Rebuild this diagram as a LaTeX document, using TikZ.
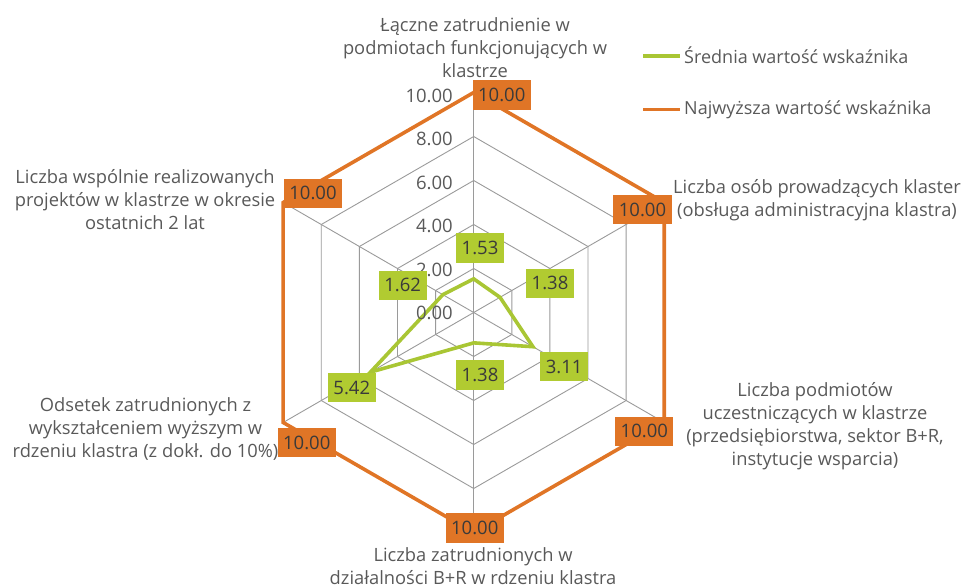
\documentclass[tikz,border=0pt]{standalone}
\usepackage{fontspec}
\setmainfont{Open Sans}
\definecolor{gl}{HTML}{A9C634}
\definecolor{gbox}{HTML}{B1CB31}
\definecolor{og}{HTML}{E07526}
\definecolor{gridc}{HTML}{9A9A9A}
\definecolor{txt}{HTML}{595959}
\definecolor{boxtxt}{HTML}{3A3A3A}
\tikzset{
  gridline/.style={draw=gridc, line width=0.9pt},
  avgline/.style={draw=gl, line width=3.6pt, line join=miter},
  maxline/.style={draw=og, line width=3.6pt, line join=miter},
  gval/.style={fill=gbox, text=boxtxt, inner xsep=5.5pt, inner ysep=0pt, minimum height=29.5pt, font=\fontsize{18.5}{20}\selectfont},
  oval/.style={fill=og, text=boxtxt, inner xsep=5.5pt, inner ysep=0pt, minimum height=29.5pt, font=\fontsize{18.5}{20}\selectfont},
  tick/.style={anchor=east, text=txt, inner sep=0pt, font=\fontsize{18.5}{20}\selectfont},
  cat/.style={align=center, text=txt, inner sep=0pt, font=\fontsize{18.3}{23}\selectfont},
  leg/.style={anchor=west, text=txt, inner sep=0pt, font=\fontsize{18}{20}\selectfont}
}
\begin{document}
\begin{tikzpicture}[x=1pt,y=-1pt]
\useasboundingbox (0,0) rectangle (966,587);
\begin{scope}[shift={(473.7,312.5)}]
  % grid rings
  \foreach \r in {44,88,132,176,220}{
    \draw[gridline] (0,-\r) \foreach \k in {1,...,5}{ -- ({\r*sin(60*\k)},{-\r*cos(60*\k)}) } -- cycle;
  }
  % spokes
  \foreach \k in {0,...,5}{
    \draw[gridline] (0,0) -- ({220*sin(60*\k)},{-220*cos(60*\k)});
  }
  % maximum polygon
  \draw[maxline] (0,-220) \foreach \k in {1,...,5}{ -- ({220*sin(60*\k)},{-220*cos(60*\k)}) } -- cycle;
  % average polygon
  \coordinate (p0) at ({22*1.53*sin(0)},{-22*1.53*cos(0)});
  \coordinate (p1) at ({22*1.38*sin(60)},{-22*1.38*cos(60)});
  \coordinate (p2) at ({22*3.11*sin(120)},{-22*3.11*cos(120)});
  \coordinate (p3) at ({22*1.38*sin(180)},{-22*1.38*cos(180)});
  \coordinate (p4) at ({22*5.42*sin(240)},{-22*5.42*cos(240)});
  \coordinate (p5) at ({22*1.62*sin(300)},{-22*1.62*cos(300)});
  \draw[avgline] (p0) -- (p1) -- (p2) -- (p3) -- (p4) -- (p5) -- cycle;
\end{scope}
% tick labels
\node[tick] (t0) at (453,313.3) {0.00};
\node[tick] (t2) at (453,269.5) {2.00};
\node[tick] (t4) at (453,226) {4.00};
\node[tick] (t6) at (453,182.5) {6.00};
\node[tick] (t8) at (453,139) {8.00};
\node[tick] (t10) at (453,95.5) {10.00};
% average value labels
\node[gval] (g0) at (480,248) {1.53};
\node[gval] (g1) at (550,283.3) {1.38};
\node[gval] (g2) at (564.2,366.7) {3.11};
\node[gval] (g3) at (480,375) {1.38};
\node[gval] (g4) at (351.8,387.7) {5.42};
\node[gval] (g5) at (402.7,285.3) {1.62};
% maximum value labels
\node[oval] (o0) at (501.7,95) {10.00};
\node[oval] (o1) at (642.5,209.5) {10.00};
\node[oval] (o2) at (644.3,431.3) {10.00};
\node[oval] (o3) at (474.7,528) {10.00};
\node[oval] (o4) at (306.7,442.5) {10.00};
\node[oval] (o5) at (313,193.3) {10.00};
% category labels
\node[cat] (c0) at (475,47.5) {Łączne zatrudnienie w\\podmiotach funkcjonujących w\\klastrze};
\node[cat] (c1) at (817,200) {Liczba osób prowadzących klaster\\(obsługa administracyjna klastra)};
\node[cat] (c2) at (815,426) {Liczba podmiotów\\uczestniczących w klastrze\\(przedsiębiorstwa, sektor B+R,\\instytucje wsparcia)};
\node[cat] (c3) at (473,566) {Liczba zatrudnionych w\\działalności B+R w rdzeniu klastra};
\node[cat] (c4) at (145.5,429) {Odsetek zatrudnionych z\\wykształceniem wyższym w\\rdzeniu klastra (z dokł. do 10\%)};
\node[cat] (c5) at (145,200) {Liczba wspólnie realizowanych\\projektów w klastrze w okresie\\ostatnich 2 lat};
% legend
\coordinate (la1) at (643,55.7);
\coordinate (la2) at (680,55.7);
\coordinate (lb1) at (643,109.3);
\coordinate (lb2) at (680,109.3);
\draw[avgline] (la1) -- (la2);
\draw[maxline] (lb1) -- (lb2);
\node[leg] (lt1) at (684,55.7) {Średnia wartość wskaźnika};
\node[leg] (lt2) at (684,109.3) {Najwyższa wartość wskaźnika};
\end{tikzpicture}
\end{document}
